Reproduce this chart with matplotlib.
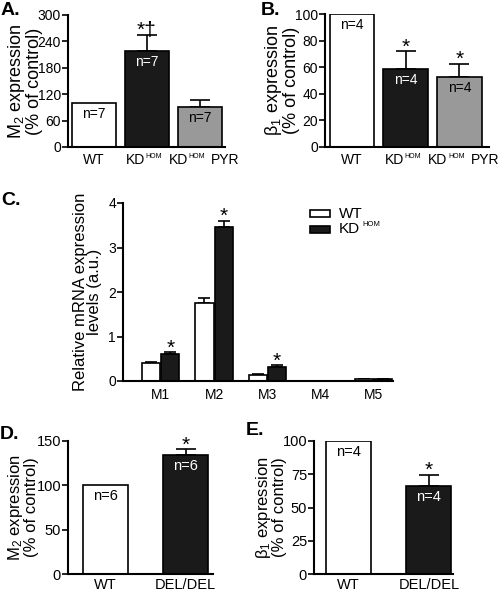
import matplotlib
matplotlib.use("Agg")
import matplotlib.pyplot as plt
from matplotlib.patches import Rectangle
from matplotlib.transforms import blended_transform_factory, ScaledTranslation
import numpy as np

plt.rcParams['font.family'] = ['Liberation Sans', 'DejaVu Sans']
plt.rcParams['mathtext.fontset'] = 'custom'
plt.rcParams['mathtext.rm'] = 'Liberation Sans'
plt.rcParams['mathtext.it'] = 'Liberation Sans'

# ---------------- data ----------------
# tick labels: (main text, superscript, trailing text)
a_cats = [('WT', '', ''), ('KD', 'HOM', ''), ('KD', 'HOM', 'PYR')]
a_vals = [100, 219, 91]
a_errs = [0, 36, 15]
a_n = ['n=7', 'n=7', 'n=7']
a_marks = ['', '*†', '']

b_cats = [('WT', '', ''), ('KD', 'HOM', ''), ('KD', 'HOM', 'PYR')]
b_vals = [100, 59, 52.5]
b_errs = [0, 13, 10]
b_n = ['n=4', 'n=4', 'n=4']
b_marks = ['', '*', '*']

c_cats = ['M1', 'M2', 'M3', 'M4', 'M5']
c_series = [('WT', ''), ('KD', 'HOM')]
c_wt = [0.40, 1.75, 0.135, 0.005, 0.035]
c_wt_err = [0.02, 0.12, 0.02, 0.0, 0.005]
c_kd = [0.60, 3.45, 0.32, 0.008, 0.045]
c_kd_err = [0.05, 0.15, 0.03, 0.0, 0.005]
c_marks = ['*', '*', '*', '', '']

d_cats = [('WT', '', ''), ('DEL/DEL', '', '')]
d_vals = [100, 134]
d_errs = [0, 7]
d_n = ['n=6', 'n=6']
d_marks = ['', '*']

e_cats = [('WT', '', ''), ('DEL/DEL', '', '')]
e_vals = [100, 66.5]
e_errs = [0, 8]
e_n = ['n=4', 'n=4']
e_marks = ['', '*']

W, H = 500, 592
fig = plt.figure(figsize=(W / 100, H / 100), dpi=100)


def ax_px(l, t, r, b):
    return fig.add_axes([l / W, 1 - b / H, (r - l) / W, (b - t) / H])


BLACK = '#1a1a1a'
GRAY = '#999999'


def style(ax, tick_fs):
    for s in ['top', 'right']:
        ax.spines[s].set_visible(False)
    for s in ['left', 'bottom']:
        ax.spines[s].set_linewidth(1.5)
    ax.tick_params(axis='y', direction='out', length=4, width=1.2, labelsize=tick_fs, pad=1)
    ax.tick_params(axis='x', length=0, labelsize=tick_fs, pad=5)


def px_text(ax, xdata, dx, dy, s, **kw):
    tr = blended_transform_factory(ax.transData, ax.transAxes) + \
        ScaledTranslation(dx / 100, dy / 100, fig.dpi_scale_trans)
    return ax.text(xdata, 0, s, transform=tr, clip_on=False, **kw)


def xlabels(ax, cats, fs, dy=-6):
    ax.set_xticks(np.arange(len(cats)))
    ax.set_xticklabels([])
    for xi, (main, sup, tail) in enumerate(cats):
        if not sup:
            px_text(ax, xi, 0, dy, main, ha='center', va='top', fontsize=fs)
        elif not tail:
            px_text(ax, xi, -2, dy, main, ha='right', va='top', fontsize=fs)
            px_text(ax, xi, -1, dy, sup, ha='left', va='top', fontsize=fs * 0.5)
        else:
            px_text(ax, xi, -12, dy, main, ha='right', va='top', fontsize=fs)
            px_text(ax, xi, -11, dy, sup, ha='left', va='top', fontsize=fs * 0.5)
            px_text(ax, xi, 11, dy, tail, ha='left', va='top', fontsize=fs)


def simple_panel(ax, cats, vals, errs, ns, marks, colors, n_colors, width, xlim, ylim, yticks,
                 ylabel, lab_fs, tick_fs, star_fs, lab_x, xdy=-6):
    x = np.arange(len(cats))
    ax.bar(x, vals, width=width, color=colors, edgecolor='black', linewidth=1.2, zorder=2)
    for xi, v, e in zip(x, vals, errs):
        if e > 0:
            ax.errorbar(xi, v, yerr=[[0], [e]], fmt='none', ecolor='black', elinewidth=1.2,
                        capsize=7, capthick=1.2, zorder=1)
    for xi, v, nn, c in zip(x, vals, ns, n_colors):
        ax.annotate(nn, xy=(xi, v), xytext=(0, -3), textcoords='offset points',
                    ha='center', va='top', fontsize=tick_fs, color=c)
    for xi, v, e, m in zip(x, vals, errs, marks):
        if m:
            ax.annotate(m, xy=(xi, v + e), xytext=(0, -1), textcoords='offset points',
                        ha='center', va='baseline', fontsize=star_fs)
    ax.set_xlim(*xlim)
    ax.set_ylim(*ylim)
    ax.set_yticks(yticks)
    xlabels(ax, cats, tick_fs, xdy)
    ax.set_ylabel(ylabel, fontsize=lab_fs, linespacing=0.95)
    ax.yaxis.set_label_coords(lab_x, 0.5)
    style(ax, tick_fs)


# Panel A
axA = ax_px(68, 15, 225, 147)
simple_panel(axA, a_cats, a_vals, a_errs, a_n, a_marks, ['white', BLACK, GRAY],
             ['black', 'white', 'black'], 0.83, (-0.49, 2.48), (0, 300),
             [0, 60, 120, 180, 240, 300], 'M$_2$ expression\n(% of control)', 13, 10, 15,
             (43 - 68) / 157)

# Panel B
axB = ax_px(325, 14, 489, 147)
simple_panel(axB, b_cats, b_vals, b_errs, b_n, b_marks, ['white', BLACK, GRAY],
             ['black', 'white', 'black'], 0.83, (-0.5, 2.55), (0, 100),
             [0, 20, 40, 60, 80, 100], 'β$_1$ expression\n(% of control)', 13, 10, 15,
             (300 - 325) / 164)

# Panel C
axC = ax_px(123, 203, 393, 381)
xc = np.arange(len(c_cats))
bw = 0.34
off = 0.18
axC.bar(xc - off, c_wt, width=bw, color='white', edgecolor='black', linewidth=1.2, zorder=2)
axC.bar(xc + off, c_kd, width=bw, color=BLACK, edgecolor='black', linewidth=1.2, zorder=2)
axC.errorbar(xc - off, c_wt, yerr=[np.zeros(len(c_wt)), c_wt_err], fmt='none', ecolor='black',
             elinewidth=1.2, capsize=4, capthick=1.2, zorder=1)
axC.errorbar(xc + off, c_kd, yerr=[np.zeros(len(c_kd)), c_kd_err], fmt='none', ecolor='black',
             elinewidth=1.2, capsize=4, capthick=1.2, zorder=1)
for xi, v, e, m in zip(xc, c_kd, c_kd_err, c_marks):
    if m:
        axC.annotate(m, xy=(xi + off, v + e), xytext=(0, -1), textcoords='offset points',
                     ha='center', va='baseline', fontsize=15)
axC.set_xlim(-0.71, 4.36)
axC.set_ylim(0, 4)
axC.set_yticks([0, 1, 2, 3, 4])
axC.set_xticks(xc)
axC.set_xticklabels(c_cats)
axC.set_ylabel('Relative mRNA expression\nlevels (a.u.)', fontsize=12, linespacing=0.95)
axC.yaxis.set_label_coords((102 - 123) / 270, 0.5)
style(axC, 10)

# manual legend for panel C (pixel positions)
leg_colors = ['white', BLACK]
leg_y = [213.5, 229]
for (main, sup), col, yy in zip(c_series, leg_colors, leg_y):
    fig.add_artist(Rectangle((310 / W, 1 - (yy + 3.5) / H), 20 / W, 7 / H,
                             transform=fig.transFigure, facecolor=col, edgecolor='black',
                             linewidth=1.2))
    fig.text(339 / W, 1 - yy / H, main, fontsize=11, ha='left', va='center')
    if sup:
        fig.text(362 / W, 1 - (yy - 5) / H, sup, fontsize=5.5, ha='left', va='center')

# Panel D
axD = ax_px(68, 441, 213, 574)
simple_panel(axD, d_cats, d_vals, d_errs, d_n, d_marks, ['white', BLACK],
             ['black', 'white'], 0.56, (-0.47, 1.34), (0, 150),
             [0, 50, 100, 150], 'M$_2$ expression\n(% of control)', 12, 10.5, 15,
             (39 - 68) / 145, xdy=-4)

# Panel E
axE = ax_px(314, 441, 453, 574)
simple_panel(axE, e_cats, e_vals, e_errs, e_n, e_marks, ['white', BLACK],
             ['black', 'white'], 0.56, (-0.43, 1.3), (0, 100),
             [0, 25, 50, 75, 100], 'β$_1$ expression\n(% of control)', 12, 10.5, 15,
             (287 - 314) / 139, xdy=-4)

# Panel letters
for lbl, x, y in [('A.', 1, 2), ('B.', 261, 2), ('C.', 1, 192), ('D.', 0, 426), ('E.', 246, 422)]:
    fig.text(x / W, 1 - y / H, lbl, fontsize=14, fontweight='bold', ha='left', va='top')

fig.savefig('out.png', dpi=100)
